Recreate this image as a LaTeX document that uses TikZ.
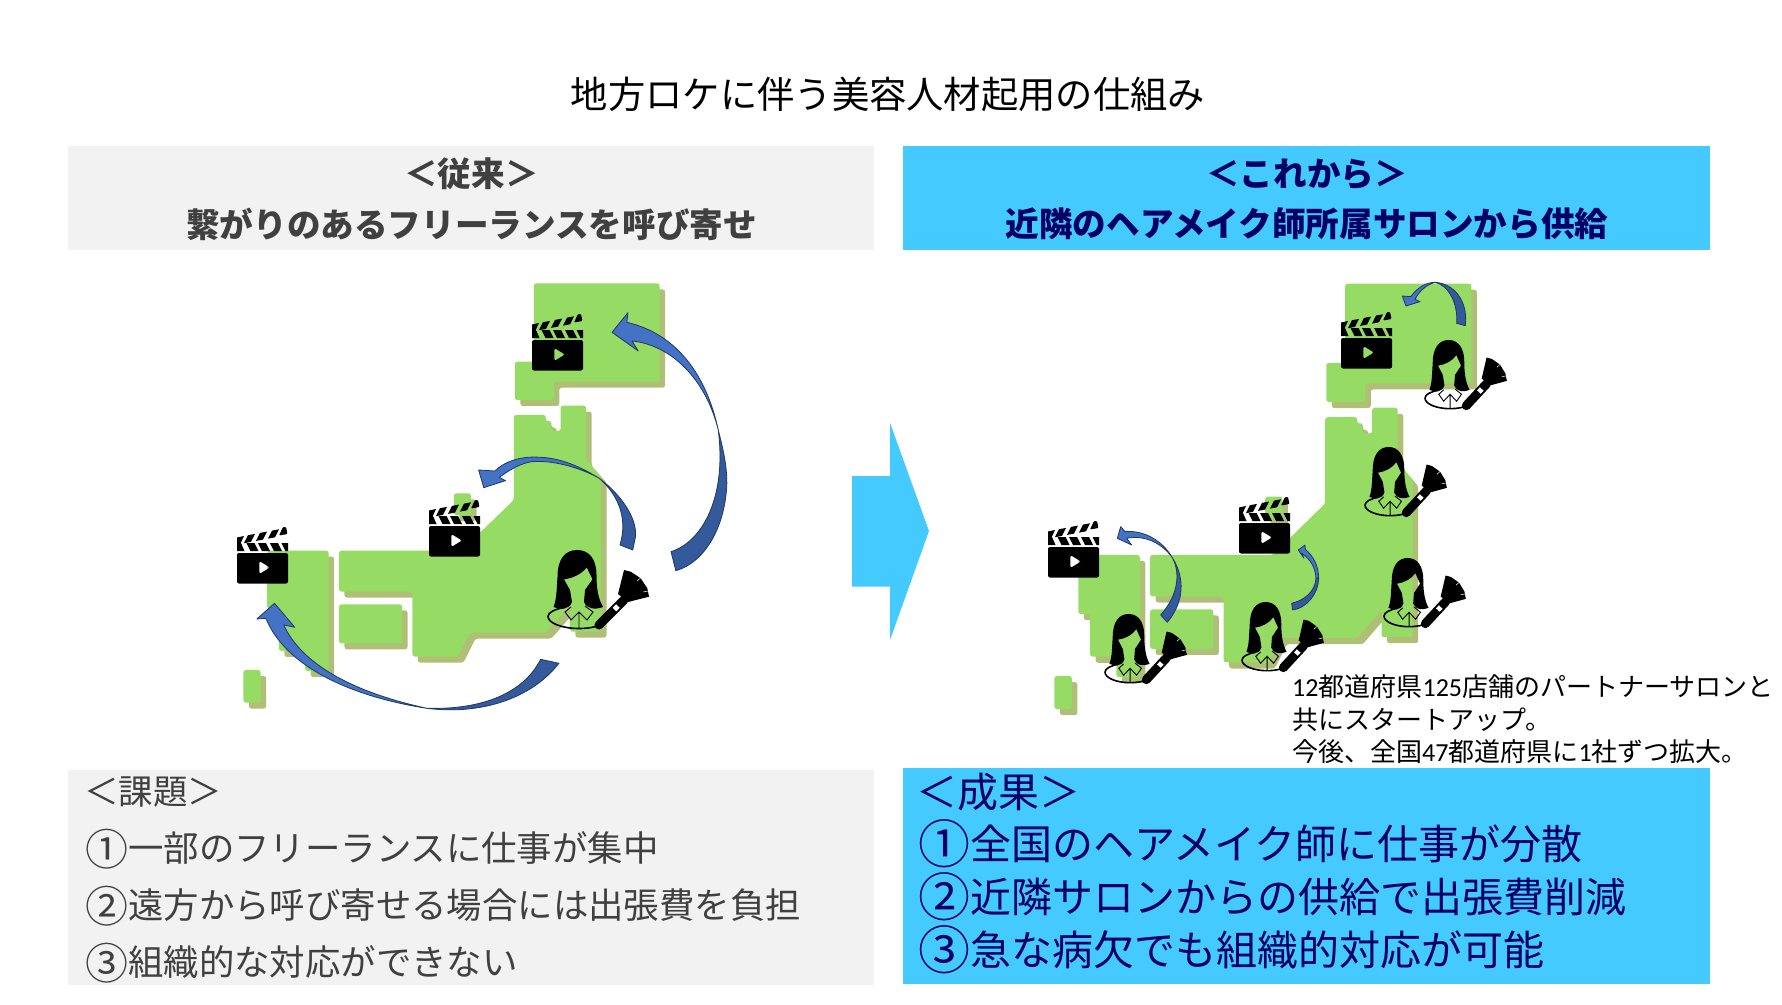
\documentclass[tikz,border=0pt]{standalone}
\usepackage{fontspec}
\setmainfont{Noto Sans CJK JP}
\newfontfamily\notelatin{Carlito}
\usetikzlibrary{positioning}
\definecolor{panelgrey}{HTML}{F2F2F2}
\definecolor{panelblue}{HTML}{45CAFF}
\definecolor{navytext}{HTML}{000066}
\definecolor{greytext}{HTML}{404040}
\definecolor{landgreen}{HTML}{96DC64}
\definecolor{landshade}{HTML}{B0BF76}
\definecolor{sweeplight}{HTML}{4472C4}
\definecolor{sweepdark}{HTML}{345A9C}
\definecolor{sweepline}{HTML}{1F3864}
\newcommand\oldmark[1]{\raisebox{-3.5pt}{\fontsize{43pt}{43pt}\selectfont #1}}
\newcommand\newmark[1]{\raisebox{-4pt}{\fontsize{52pt}{52pt}\selectfont #1}}
\def\japanoutline{
  (910,40) -- (1275,40) -- (1275,335) -- (968,335) -- (968,390) -- (855,390) -- (855,275) -- (910,275) -- cycle
  (852,435) -- (945,435) -- (945,455) -- (960,455) -- (960,483) -- (988,483) -- (988,407) -- (1062,407) -- (1062,570)
    -- (1105,620) -- (1105,1085) -- (1015,1085) -- (1015,1005) -- (945,1088) -- (725,1088) -- (690,1160) -- (558,1160)
    -- (558,965) -- (345,965) -- (345,842) -- (700,842) -- (852,690) -- cycle
  (137,842) -- (315,842) -- (315,1203) -- (247,1203) -- (247,1143) -- (171,1143) -- (171,1017) -- (137,1017) -- cycle
  (345,1003) -- (528,1003) -- (528,1120) -- (345,1120) -- cycle
  (678,670) -- (728,670) -- (728,735) -- (678,735) -- cycle
  (68,1200) -- (118,1200) -- (118,1298) -- (68,1298) -- cycle
}
\tikzset{
  map-land/.style={fill=landgreen, rounded corners=2.5pt},
  map-shade/.style={fill=landshade, rounded corners=2.5pt, shift={(16,18)}},
  panel-grey/.style={fill=panelgrey, minimum width=806pt, minimum height=104.5pt, inner sep=0pt},
  panel-blue/.style={fill=panelblue, minimum width=807pt, minimum height=104.5pt, inner sep=0pt},
  title-text/.style={font=\fontsize{37.3pt}{40pt}\selectfont, inner sep=0pt},
  head-old/.style={font=\fontsize{33.6pt}{36pt}\selectfont\bfseries, text=greytext, inner sep=0pt},
  head-new/.style={font=\fontsize{33.6pt}{36pt}\selectfont\bfseries, text=navytext, inner sep=0pt},
  list-old/.style={font=\fontsize{35.4pt}{40pt}\selectfont, text=greytext, inner sep=0pt, anchor=west},
  list-new/.style={font=\fontsize{41pt}{45pt}\selectfont, text=navytext, inner sep=0pt, anchor=west},
  note-text/.style={font=\fontsize{26pt}{32.5pt}\selectfont, inner sep=0pt, anchor=north west, align=left},
  sweep-head/.style={fill=sweeplight, draw=sweepline, line width=0.8pt, line join=round},
  sweep-tail/.style={fill=sweepdark, draw=sweepline, line width=0.8pt, line join=round},
  japan/.pic={
    \fill[map-shade] \japanoutline;
    \fill[map-land] \japanoutline;
  },
  clapper/.pic={
    % board, play mark left open
    \fill[black, even odd rule, rounded corners=2pt] (0,26) -- (51,26) -- (51,56.5) -- (0,56.5) -- cycle
      (22.4,34) -- (33,40.5) -- (22.4,47) -- cycle;
    % lower strip
    \foreach \s in {9.5,21,33}
      \fill[black] (\s,16) -- (\s+8,16) -- (\s+12,24) -- (\s+4,24) -- cycle;
    \fill[black] (0,16) -- (4,16) -- (7.5,24) -- (0,24) -- cycle;
    \fill[black] (44.5,16) -- (51,16) -- (51,24) -- (48.5,24) -- cycle;
    % upper arm
    \foreach \s/\h in {7/16.2,19/13.9,31/11.6}
      \fill[black] (\s,\h) -- (\s+7,\h-1.3) -- (\s+11,\h-9.3) -- (\s+4,\h-8) -- cycle;
    \fill[black] (0,18) -- (3,17.5) -- (7,9) -- (0,10.5) -- cycle;
    \fill[black, rounded corners=1pt] (42,8.5) -- (50.5,7) -- (49,0) -- (46,0) -- cycle;
  },
  stylist/.pic={
    % shoulders
    \draw[black, line width=1.6pt] (17,57) .. controls (7,59.5) and (0,62) .. (0,66.5)
      .. controls (0,73) and (14,78.5) .. (31,78.5) .. controls (48,78.5) and (62,73) .. (62,66.5);
    % hair round the face
    \fill[black] (5.5,57) .. controls (9,48) and (8.5,38) .. (9.5,27) .. controls (9.5,9) and (17,0) .. (29.3,0)
      .. controls (41,0) and (48.5,9) .. (48.5,25) .. controls (48.5,38) and (50,48) .. (55,57)
      .. controls (47,60) and (39,59) .. (36,52) -- (37,40) -- (44.5,29.3) -- (38.7,17.3)
      .. controls (34,24) and (24,28.5) .. (16,29.3) -- (22,40) -- (24,52)
      .. controls (21,60) and (12,60) .. (5.5,57) -- cycle;
    % collar
    \draw[black, line width=0.9pt] (23,57) -- (17,62) -- (23,70) -- (31,62) -- (39,70) -- (45,62) -- (37,56)
      (31,62) -- (31,78.5);
    % brush
    \draw[black, line width=9pt, line cap=round] (51,75) -- (76,50);
    \draw[white, line width=5pt] (66.5,59.5) -- (70,56);
    \fill[black] (70,44) -- (76,20) -- (82.7,21.7) -- (92.7,28.3) -- (99.3,38.3) -- (101,46.7) -- (80,52) -- cycle;
    \draw[white, line width=0.5pt] (95,42) -- (100,41) (89,31) -- (92.5,28);
  }
}

\begin{document}
\begin{tikzpicture}[x=1pt, y=-1pt]
  \useasboundingbox (0,0) rectangle (1782,1004);

  % Title
  \node[title-text] (title) at (888,94) {地方ロケに伴う美容人材起用の仕組み};

  % Header panels
  \node[panel-grey] (oldpanel) at (471,198) {};
  \node[panel-blue] (newpanel) at (1306,198) {};
  \node[head-old] (oldtag) at (471.5,174) {＜従来＞};
  \node[head-old] (oldhead) at (471.5,224) {繋がりのあるフリーランスを呼び寄せ};
  \node[head-new] (newtag) at (1307,174) {＜これから＞};
  \node[head-new] (newhead) at (1307,224) {近隣のヘアメイク師所属サロンから供給};

  % Lower panels
  \node[panel-grey, minimum height=215.5pt] (issuepanel) at (471,877.5) {};
  \node[panel-blue, minimum height=216pt] (resultpanel) at (1306,876) {};
  \node[list-old, font=\fontsize{34.5pt}{40pt}\selectfont] (issuetag) at (84,792) {＜課題＞};
  \node[list-old] (issueone) at (85,849) {\oldmark{①}一部のフリーランスに仕事が集中};
  \node[list-old] (issuetwo) at (85,906) {\oldmark{②}遠方から呼び寄せる場合には出張費を負担};
  \node[list-old] (issuethree) at (85,963) {\oldmark{③}組織的な対応ができない};
  \node[list-new] (resulttag) at (916,792) {＜成果＞};
  \node[list-new] (resultone) at (918,844) {\newmark{①}全国のヘアメイク師に仕事が分散};
  \node[list-new] (resulttwo) at (918,897) {\newmark{②}近隣サロンからの供給で出張費削減};
  \node[list-new] (resultthree) at (918,950) {\newmark{③}急な病欠でも組織的対応が可能};

  % Big arrow between the maps
  \fill[panelblue] (852,476) -- (890,476) -- (890,422.7) -- (929,531) -- (890,640) -- (890,586.7) -- (852,586.7) -- cycle;

  % Left map
  \pic[xscale=0.3448, yscale=0.3333] at (220,270) {japan};
  \pic at (532,314) {clapper};
  \pic at (429,500) {clapper};
  \pic at (237,527) {clapper};
  \pic at (548,550) {stylist};

  % Left map sweeps
  \begin{scope}[shift={(220,270)}, xscale=0.3448, yscale=0.3333]
    % to the north
    \path[sweep-tail] (1445,480) .. controls (1465,560) and (1470,600) .. (1470,640) .. controls (1465,780) and (1400,880) .. (1322,902)
      -- (1308,845) .. controls (1400,815) and (1470,680) .. (1445,480) -- cycle;
    \path[sweep-head] (1137,187) -- (1183,128) -- (1180,157) .. controls (1320,190) and (1410,310) .. (1445,480)
      .. controls (1410,330) and (1310,225) .. (1195,213) -- (1213,243) -- cycle;
    % to the middle
    \path[sweep-tail] (1100,625) .. controls (1170,680) and (1210,750) .. (1205,800) -- (1197,840) -- (1160,825)
      .. controls (1185,740) and (1150,670) .. (1100,625) -- cycle;
    \path[sweep-head] (750,600) -- (797,603) .. controls (830,570) and (880,558) .. (930,562) .. controls (1000,565) and (1060,600) .. (1100,625)
      .. controls (1040,590) and (960,570) .. (905,575) .. controls (870,580) and (840,600) .. (810,622) -- (828,632) -- (765,653) -- cycle;
    % to the west
    \path[sweep-tail] (600,1315) .. controls (750,1335) and (900,1290) .. (983,1180) -- (930,1168)
      .. controls (880,1270) and (760,1320) .. (600,1315) -- cycle;
    \path[sweep-head] (107,1047) -- (158,1000) -- (217,1072) -- (185,1065) .. controls (240,1190) and (400,1270) .. (600,1315)
      .. controls (380,1280) and (190,1190) .. (133,1045) -- cycle;
  \end{scope}

  % Right map
  \pic[xscale=0.3453, yscale=0.3383] at (1031,270) {japan};
  \pic at (1341,312) {clapper};
  \pic at (1239,497) {clapper};
  \pic at (1048,521) {clapper};
  \pic[xscale=0.81, yscale=0.875] at (1425,340) {stylist};
  \pic[xscale=0.81, yscale=0.875] at (1365,447) {stylist};
  \pic[xscale=0.81, yscale=0.875] at (1384,558) {stylist};
  \pic[xscale=0.81, yscale=0.875] at (1242,602) {stylist};
  \pic[xscale=0.81, yscale=0.875] at (1105,614) {stylist};

  % Right map sweeps
  \begin{scope}[shift={(1030,270)}, scale=0.3333]
    \path[sweep-tail] (1215,37) .. controls (1270,40) and (1315,90) .. (1306,167) -- (1280,160)
      .. controls (1285,100) and (1255,45) .. (1215,37) -- cycle;
    \path[sweep-head] (1117,78) -- (1142,80) .. controls (1165,50) and (1190,37) .. (1215,37)
      .. controls (1190,45) and (1170,60) .. (1155,88) -- (1170,95) -- (1128,108) -- cycle;
    \path[sweep-tail] (425,860) .. controls (455,905) and (475,980) .. (412,1057) -- (392,1035)
      .. controls (450,970) and (450,900) .. (425,860) -- cycle;
    \path[sweep-head] (262,805) -- (272,770) -- (285,785) .. controls (340,780) and (395,810) .. (425,860)
      .. controls (390,815) and (340,795) .. (290,805) -- (305,825) -- cycle;
    \path[sweep-tail] (866,925) .. controls (866,970) and (830,1015) .. (788,1020) -- (785,1000)
      .. controls (825,990) and (855,965) .. (858,925) -- cycle;
    \path[sweep-head] (805,840) -- (825,825) -- (826,838) .. controls (852,860) and (866,890) .. (866,925) -- (858,925)
      .. controls (856,895) and (845,870) .. (815,850) -- (822,865) -- cycle;
  \end{scope}

  % Partner note
  \node[note-text] (note) at (1292,674.5) {{\notelatin 12}都道府県{\notelatin 125}店舗のパートナーサロンと\\共にスタートアップ。\\今後、全国{\notelatin 47}都道府県に{\notelatin 1}社ずつ拡大。};
\end{tikzpicture}
\end{document}
